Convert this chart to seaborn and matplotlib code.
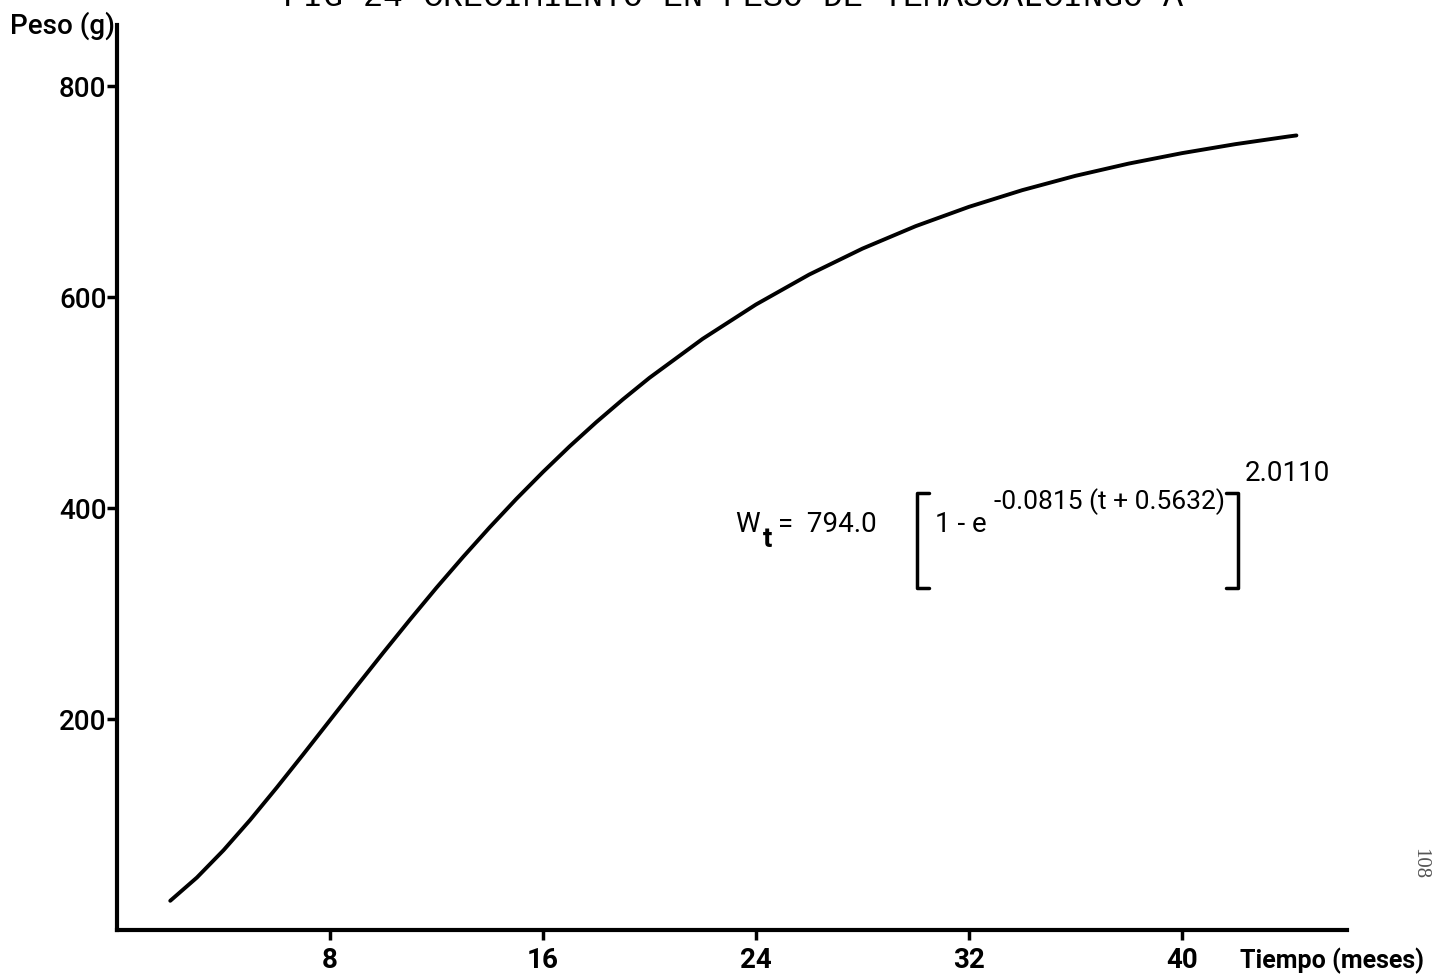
import matplotlib
matplotlib.use("Agg")
import matplotlib.pyplot as plt
import seaborn as sns
import pandas as pd

# Growth in weight (von Bertalanffy curve), months vs grams
tiempo = [2, 3, 4, 5, 6, 7, 8, 9, 10, 11, 12, 13, 14, 15, 16, 17, 18, 19, 20,
          22, 24, 26, 28, 30, 32, 34, 36, 38, 40, 42, 44, 44.3]
peso = [27.7, 49.7, 75.6, 104.3, 135.0, 166.7, 198.9, 231.1, 262.9, 294.1, 324.5, 353.7,
        381.8, 408.7, 434.2, 458.5, 481.4, 503.0, 523.5,
        560.5, 593.0, 621.4, 646.0, 667.3, 685.6, 701.4, 715.0, 726.6, 736.5, 745.0, 752.3, 753.3]

x_ticks = [8, 16, 24, 32, 40]
y_ticks = [200, 400, 600, 800]

titulo = "FIG 24 CRECIMIENTO EN PESO DE TEMASCALCINGO A"
eje_y = "Peso (g)"
eje_x = "Tiempo (meses)"

sns.set_style("ticks")
plt.rcParams["font.family"] = ["Roboto", "DejaVu Sans"]
for key in ("text.color", "xtick.color", "ytick.color", "axes.labelcolor", "axes.edgecolor"):
    plt.rcParams[key] = "black"

df = pd.DataFrame({"t": tiempo, "w": peso})

fig = plt.figure(figsize=(14.37, 9.77), dpi=100)
ax = fig.add_axes([117 / 1437, 1 - 930 / 977, (1347 - 117) / 1437, (930 - 25) / 977])

sns.lineplot(data=df, x="t", y="w", ax=ax, color="black", linewidth=2.8, sort=True)

ax.set_xlim(0, 46.2)
ax.set_ylim(0, 858)
ax.set_xticks(x_ticks)
ax.set_yticks(y_ticks)
ax.set_xticklabels([str(v) for v in x_ticks], fontsize=20, fontweight="bold")
ax.set_yticklabels([str(v) for v in y_ticks], fontsize=20, fontweight="medium")
ax.tick_params(axis="both", width=2.5, length=7, color="black")
ax.tick_params(axis="y", pad=0.5)
ax.tick_params(axis="x", pad=5)
ax.set_xlabel("")
ax.set_ylabel("")
sns.despine(ax=ax)
for side in ("left", "bottom"):
    ax.spines[side].set_linewidth(3)
    ax.spines[side].set_color("black")

# Axis captions at the ends of the axes
fig.text(10 / 1437, 1 - 34 / 977, eje_y, fontsize=20, fontweight="medium", ha="left", va="baseline")
fig.text(1240 / 1437, 1 - 968 / 977, eje_x, fontsize=18, fontweight="bold", ha="left", va="baseline")

# Title at the top edge
fig.text(283 / 1437, 1 - 6 / 977, titulo, fontsize=24, family=["Liberation Mono", "DejaVu Sans Mono"],
         ha="left", va="baseline")

# Page number
fig.text(1420 / 1437, 1 - 864 / 977, "108", fontsize=15, rotation=-90, color="#555555",
         family=["Liberation Serif", "DejaVu Serif"], ha="center", va="center")

# Fitted equation
fs = 20
fig.text(735 / 1437, 1 - 532 / 977, "W", fontsize=fs, ha="left", va="baseline")
fig.text(763 / 1437, 1 - 547 / 977, "t", fontsize=fs, fontweight="bold", ha="left", va="baseline")
fig.text(778 / 1437, 1 - 532 / 977, "=  794.0", fontsize=fs, ha="left", va="baseline")
fig.text(935 / 1437, 1 - 532 / 977, "1 - e", fontsize=fs, ha="left", va="baseline")
fig.text(994 / 1437, 1 - 509 / 977, "-0.0815 (t + 0.5632)", fontsize=19, ha="left", va="baseline")
fig.text(1245 / 1437, 1 - 481 / 977, "2.0110", fontsize=fs, ha="left", va="baseline")

def bracket(x0, hook):
    xs = [x0 + hook, x0, x0, x0 + hook]
    ys = [493, 493, 588, 588]
    fig.add_artist(plt.Line2D([v / 1437 for v in xs], [1 - v / 977 for v in ys],
                              transform=fig.transFigure, color="black", linewidth=2.5))

bracket(917, 12)
bracket(1238, -12)

fig.savefig("out.png", dpi=100)
